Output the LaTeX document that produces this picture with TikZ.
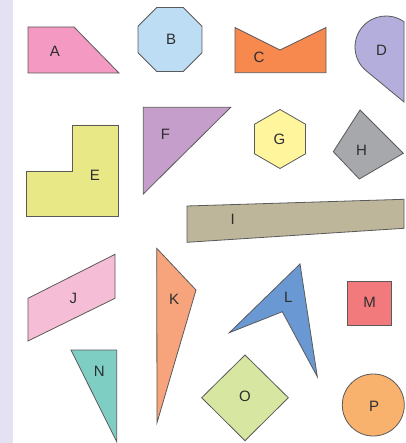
\documentclass[tikz,border=0pt]{standalone}
\usepackage{fontspec}
\setmainfont{Liberation Sans}
\definecolor{linec}{HTML}{5A5A5A}
\definecolor{textc}{HTML}{2E2E2E}
\definecolor{strip}{HTML}{E4E2F2}
\definecolor{cA}{HTML}{F49AC2}
\definecolor{cB}{HTML}{BCDDF3}
\definecolor{cC}{HTML}{F7894F}
\definecolor{cD}{HTML}{B4AEDC}
\definecolor{cE}{HTML}{E8E886}
\definecolor{cF}{HTML}{C59ECB}
\definecolor{cG}{HTML}{FFF59C}
\definecolor{cH}{HTML}{A6A8AC}
\definecolor{cI}{HTML}{BDB69A}
\definecolor{cJ}{HTML}{F6BDD6}
\definecolor{cK}{HTML}{F7A37B}
\definecolor{cL}{HTML}{6A98D3}
\definecolor{cM}{HTML}{F27A7D}
\definecolor{cN}{HTML}{7FCEC4}
\definecolor{cO}{HTML}{D7E7A1}
\definecolor{cP}{HTML}{F8B26E}
\tikzset{
  shp/.style={draw=linec, line width=0.8pt, line join=miter},
  lab/.style={font=\fontsize{15}{18}\selectfont, text=textc, inner sep=0pt}
}
\begin{document}
\begin{tikzpicture}[x=1pt,y=-1pt]
\useasboundingbox (0,0) rectangle (405,443);
\fill[white] (0,0) rectangle (405,443);
\fill[strip] (0,0) rectangle (12.5,443);
% A
\draw[shp, fill=cA] (28,27) -- (74,27) -- (119,73) -- (28,73) -- cycle;
\node[lab] (A) at (55,51) {A};
% B octagon
\begin{scope}[shift={(170,39.5)}]
\draw[shp, fill=cB] (22.5:34.6) -- (67.5:34.6) -- (112.5:34.6) -- (157.5:34.6) -- (202.5:34.6) -- (247.5:34.6) -- (292.5:34.6) -- (337.5:34.6) -- cycle;
\end{scope}
\node[lab] (B) at (171,39.5) {B};
% C
\draw[shp, fill=cC] (235,27.5) -- (280,50) -- (326,27.5) -- (326,72.7) -- (235,72.7) -- cycle;
\node[lab] (C) at (259,57) {C};
% D teardrop
\draw[shp, fill=cD] (404,102) -- (366.3,70.9) arc[start angle=129.5, end angle=305.5, radius=31] -- cycle;
\node[lab] (D) at (381.5,50.5) {D};
% E
\draw[shp, fill=cE] (72,125) -- (118,125) -- (118,216.7) -- (26,216.7) -- (26,171) -- (72,171) -- cycle;
\node[lab] (E) at (95,175.5) {E};
% F
\draw[shp, fill=cF] (143.3,107.3) -- (230.7,107.3) -- (143.3,194) -- cycle;
\node[lab] (F) at (165.5,134) {F};
% G hexagon
\begin{scope}[shift={(280,139)}]
\draw[shp, fill=cG] (30:29.5) -- (90:29.5) -- (150:29.5) -- (210:29.5) -- (270:29.5) -- (330:29.5) -- cycle;
\end{scope}
\node[lab] (G) at (279.5,139.3) {G};
% H
\draw[shp, fill=cH] (360,110) -- (403.3,153.3) -- (359.3,179) -- (333.3,151.7) -- cycle;
\node[lab] (H) at (361.5,150) {H};
% I
\draw[shp, fill=cI] (187,206) -- (404,199.3) -- (404,228.3) -- (187,242.3) -- cycle;
\node[lab] (I) at (232.7,219.3) {I};
% J
\draw[shp, fill=cJ] (28,298.3) -- (115,254.3) -- (115,298.3) -- (28,341) -- cycle;
\node[lab] (J) at (73.3,298.3) {J};
% K
\draw[shp, fill=cK] (156.7,248.3) -- (196,290) -- (157,422.7) -- cycle;
\node[lab] (K) at (174,299.3) {K};
% L
\draw[shp, fill=cL] (300,264) -- (317.3,376.7) -- (282.3,311.7) -- (229.3,332.7) -- cycle;
\node[lab] (L) at (288.3,297.3) {L};
% M
\draw[shp, fill=cM] (347.7,281.7) rectangle (391.7,325);
\node[lab] (M) at (369.5,302.7) {M};
% N
\draw[shp, fill=cN] (71,350) -- (116.7,350) -- (116.7,441.7) -- cycle;
\node[lab] (N) at (99.3,371.7) {N};
% O
\draw[shp, fill=cO] (245,355) -- (288.3,397.7) -- (245,440.7) -- (201.7,397.7) -- cycle;
\node[lab] (O) at (245,396.7) {O};
% P
\draw[shp, fill=cP] (373.3,405) circle[radius=31];
\node[lab] (P) at (374,406.5) {P};
\end{tikzpicture}
\end{document}
